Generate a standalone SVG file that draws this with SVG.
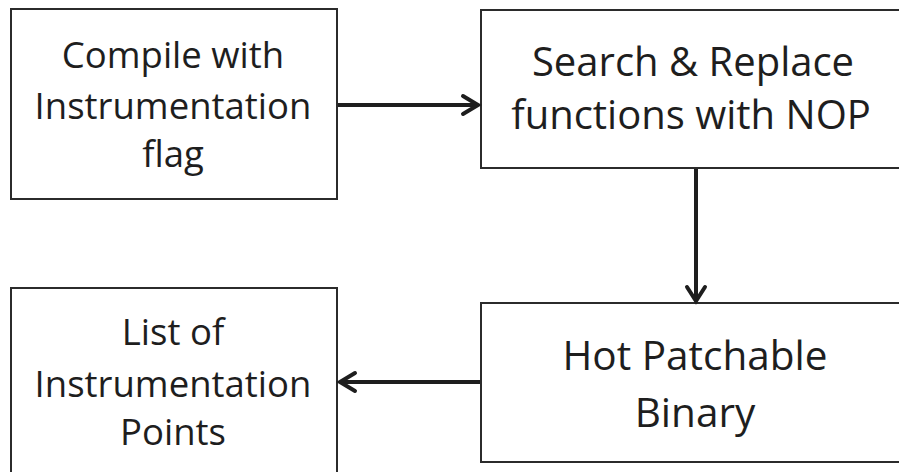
<svg xmlns="http://www.w3.org/2000/svg" width="899" height="472" viewBox="0 0 899 472">
<style>
.box{fill:#fff;stroke:#2b2b2b;stroke-width:2}
.t{font-family:"Open Sans","Liberation Sans",sans-serif;fill:#1e1e1e;text-anchor:middle}
.s1{font-size:36.5px}
.s2{font-size:40px}
.s3{font-size:40.5px}
.c{stroke:#1e1e1e;stroke-width:4;fill:none}
.h{stroke:#1e1e1e;stroke-width:4;fill:none;stroke-linecap:round;stroke-linejoin:miter}
</style>
<rect width="899" height="472" fill="#fff"/>
<g id="n1">
<rect class="box" x="11" y="9" width="326" height="190"/>
<text class="t s1" x="173" y="68">Compile with</text>
<text class="t s1" x="173" y="119">Instrumentation</text>
<text class="t s1" x="173" y="167">flag</text>
</g>
<g id="n2">
<rect class="box" x="481" y="10" width="422" height="158"/>
<text class="t s2" x="693" y="76">Search &amp; Replace</text>
<text class="t s2" x="691" y="129">functions with NOP</text>
</g>
<g id="n3">
<rect class="box" x="11" y="288" width="326" height="190"/>
<text class="t s1" x="173" y="345">List of</text>
<text class="t s1" x="173" y="397">Instrumentation</text>
<text class="t s1" x="173" y="445">Points</text>
</g>
<g id="n4">
<rect class="box" x="481" y="303" width="422" height="159"/>
<text class="t s3" x="695" y="370">Hot Patchable</text>
<text class="t s3" x="695" y="427">Binary</text>
</g>
<g id="connectors">
<line class="c" x1="338" y1="105" x2="477" y2="105"/>
<polyline class="h" points="463,96 478,105 463,114"/>
<line class="c" x1="696" y1="169" x2="696" y2="300"/>
<polyline class="h" points="687,287 696,301 705,287"/>
<line class="c" x1="480" y1="382" x2="341" y2="382"/>
<polyline class="h" points="355,373 340,382 355,391"/>
</g>
</svg>
